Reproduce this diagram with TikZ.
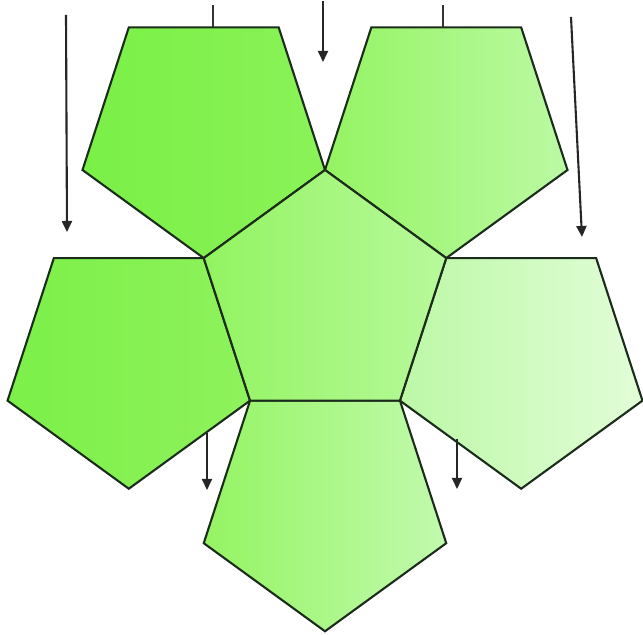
\documentclass[tikz,border=0pt]{standalone}
\usetikzlibrary{calc,arrows.meta}
\definecolor{edgecol}{HTML}{1C2C1C}
\definecolor{tlL}{HTML}{7AF046}\definecolor{tlR}{HTML}{8AF258}
\definecolor{lL}{HTML}{7CF048}\definecolor{lR}{HTML}{8EF25C}
\definecolor{trL}{HTML}{94F462}\definecolor{trR}{HTML}{BCF9A4}
\definecolor{rL}{HTML}{BCF8A6}\definecolor{rR}{HTML}{E2FDD8}
\definecolor{bL}{HTML}{94F462}\definecolor{bR}{HTML}{C2FAAE}
\definecolor{cL}{HTML}{92F460}\definecolor{cR}{HTML}{B8F99C}
\tikzset{
  pent/.style={draw=edgecol, line width=1.05pt, line join=miter},
  arr/.style={draw=black!85, line width=1.05pt, -{Triangle[length=5.5pt,width=5pt]}},
  stub/.style={draw=black!80, line width=1.05pt}
}
\begin{document}
\begin{tikzpicture}[x=0.5pt,y=0.5pt]
\useasboundingbox (0,0) rectangle (643,635);
% centre pentagon
\coordinate (C) at (325,337.5);
\def\R{127.5}
\coordinate (c0) at ($(C)+(90:\R)$);
\coordinate (c1) at ($(C)+(162:\R)$);
\coordinate (c2) at ($(C)+(234:\R)$);
\coordinate (c3) at ($(C)+(306:\R)$);
\coordinate (c4) at ($(C)+(18:\R)$);
% top-left (edge c0-c1)
\coordinate (tl2) at ($(c0)+(c1)-(c2)$);
\coordinate (tl3) at ($(c0)+(c1)-(c3)$);
\coordinate (tl4) at ($(c0)+(c1)-(c4)$);
% left (edge c1-c2)
\coordinate (l0) at ($(c1)+(c2)-(c0)$);
\coordinate (l3) at ($(c1)+(c2)-(c3)$);
\coordinate (l4) at ($(c1)+(c2)-(c4)$);
% bottom (edge c2-c3)
\coordinate (b0) at ($(c2)+(c3)-(c0)$);
\coordinate (b1) at ($(c2)+(c3)-(c1)$);
\coordinate (b4) at ($(c2)+(c3)-(c4)$);
% right (edge c3-c4)
\coordinate (r0) at ($(c3)+(c4)-(c0)$);
\coordinate (r1) at ($(c3)+(c4)-(c1)$);
\coordinate (r2) at ($(c3)+(c4)-(c2)$);
% top-right (edge c4-c0)
\coordinate (tr1) at ($(c4)+(c0)-(c1)$);
\coordinate (tr2) at ($(c4)+(c0)-(c2)$);
\coordinate (tr3) at ($(c4)+(c0)-(c3)$);

\path[pent, left color=tlL, right color=tlR]
  (c1) -- (c0) -- (tl2) -- (tl3) -- (tl4) -- cycle;
\path[pent, left color=lL, right color=lR]
  (c2) -- (c1) -- (l3) -- (l4) -- (l0) -- cycle;
\path[pent, left color=trL, right color=trR]
  (c0) -- (c4) -- (tr1) -- (tr2) -- (tr3) -- cycle;
\path[pent, left color=rL, right color=rR]
  (c4) -- (c3) -- (r0) -- (r1) -- (r2) -- cycle;
\path[pent, left color=bL, right color=bR]
  (c3) -- (c2) -- (b4) -- (b0) -- (b1) -- cycle;
\path[pent, left color=cL, right color=cR]
  (c0) -- (c1) -- (c2) -- (c3) -- (c4) -- cycle;

% arrows and stubs
\coordinate (a1s) at (66,620);   \coordinate (a1e) at (67,403);
\coordinate (s1s) at (213,630);  \coordinate (s1e) at (213,607.6);
\coordinate (a2s) at (323,634);  \coordinate (a2e) at (323,573);
\coordinate (s2s) at (443,630);  \coordinate (s2e) at (443,607.6);
\coordinate (a3s) at (571,618);  \coordinate (a3e) at (582,398);
\coordinate (a4s) at (207,202);  \coordinate (a4e) at (207,145);
\coordinate (a5s) at (457,196);  \coordinate (a5e) at (457,146);

\draw[arr] (a1s) -- (a1e);
\draw[stub] (s1s) -- (s1e);
\draw[arr] (a2s) -- (a2e);
\draw[stub] (s2s) -- (s2e);
\draw[arr] (a3s) -- (a3e);
\draw[arr] (a4s) -- (a4e);
\draw[arr] (a5s) -- (a5e);
\end{tikzpicture}
\end{document}
